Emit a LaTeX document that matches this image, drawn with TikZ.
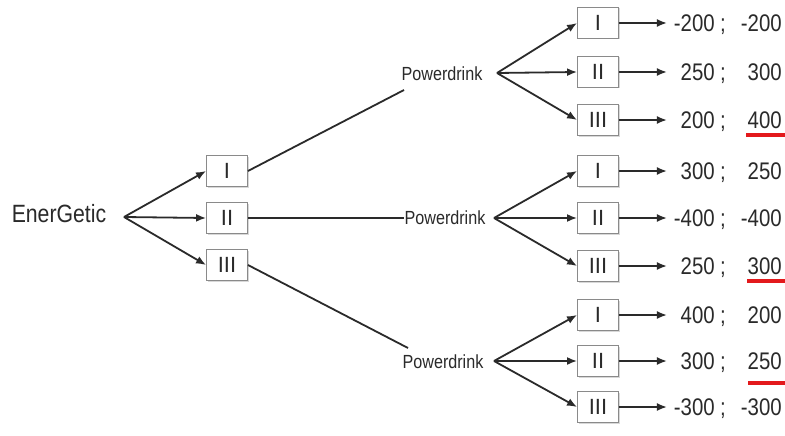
\documentclass[tikz,border=0pt]{standalone}
\usepackage{fontspec}
\setmainfont{Liberation Sans}
\newfontfamily\nsans[FakeStretch=0.85]{Liberation Sans}
\usetikzlibrary{arrows.meta,shadows}
\definecolor{ink}{HTML}{2A2A2A}
\definecolor{boxline}{HTML}{8A8A8A}
\definecolor{mark}{HTML}{E3191C}
\begin{document}
\begin{tikzpicture}[x=1pt,y=-1pt,
  optbox/.style={draw=boxline, line width=0.9pt, fill=white, minimum width=41pt, minimum height=31pt, inner sep=0pt,
    font=\fontsize{22}{22}\selectfont, text=ink,
    drop shadow={shadow xshift=1pt, shadow yshift=-1pt, fill=black!25, opacity=0.6}},
  conn/.style={draw=ink, line width=1.8pt},
  arr/.style={conn, -{Latex[length=10pt,width=8pt]}},
  val/.style={font=\nsans\fontsize{24}{24}\selectfont, text=ink, inner sep=0pt, text height=17pt, text depth=0pt},
  pd/.style={font=\nsans\fontsize{19}{19}\selectfont, text=ink, inner sep=0pt},
  uline/.style={draw=mark, line width=4pt}]
\useasboundingbox[fill=white] (0,0) rectangle (785,436);

% root
\node[font=\nsans\fontsize{25}{25}\selectfont, text=ink, inner sep=0pt] (E) at (59,214) {EnerGetic};
\coordinate (Eo) at (124,217);

% first level boxes
\node[optbox] (A1) at (227,171) {I};
\node[optbox] (A2) at (227,218) {II};
\node[optbox] (A3) at (227,265) {III};

\draw[arr] (Eo) -- (A1.west);
\draw[arr] (Eo) -- (A2.west);
\draw[arr] (Eo) -- (A3.west);

% Powerdrink nodes
\node[pd] (P1) at (442,74) {Powerdrink};
\node[pd] (P2) at (445,218) {Powerdrink};
\node[pd] (P3) at (443,362) {Powerdrink};
\coordinate (P1in) at (404,90);
\coordinate (P3in) at (408,348);
\coordinate (P1o) at (497,73);
\coordinate (P2o) at (494,218);
\coordinate (P3o) at (494,361);

\draw[conn] (A1.east) -- (P1in);
\draw[conn] (A2.east) -- (P2.west);
\draw[conn] (A3.east) -- (P3in);

% second level boxes
\node[optbox] (B1) at (598,23) {I};
\node[optbox] (B2) at (598,72) {II};
\node[optbox] (B3) at (598,120) {III};
\node[optbox] (C1) at (598,171) {I};
\node[optbox] (C2) at (598,218) {II};
\node[optbox] (C3) at (598,266) {III};
\node[optbox] (D1) at (598,315) {I};
\node[optbox] (D2) at (598,361) {II};
\node[optbox] (D3) at (598,407) {III};

\foreach \b in {B1,B2,B3} \draw[arr] (P1o) -- (\b.west);
\foreach \b in {C1,C2,C3} \draw[arr] (P2o) -- (\b.west);
\foreach \b in {D1,D2,D3} \draw[arr] (P3o) -- (\b.west);

% payoffs
\foreach \b/\l/\r in {B1/-200/-200, B2/250/300, B3/200/400,
                      C1/300/250, C2/-400/-400, C3/250/300,
                      D1/400/200, D2/300/250, D3/-300/-300}{
  \coordinate (\b t) at ([xshift=48pt]\b.east);
  \draw[arr] (\b.east) -- (\b t);
  \node[val, anchor=east] (\b L) at ([xshift=48pt]\b t) {\l};
  \node[val] (\b S) at ([xshift=56pt]\b t) {;};
  \node[val, anchor=east] (\b R) at ([xshift=115pt]\b t) {\r};
}

% red underlines
\draw[uline] (746,135) -- (785,135);
\draw[uline] (747,281) -- (785,281);
\draw[uline] (748,383) -- (785,383);
\end{tikzpicture}
\end{document}
